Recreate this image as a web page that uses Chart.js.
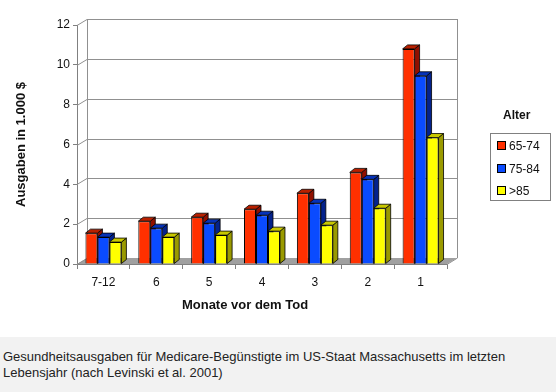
<!DOCTYPE html>
<html>
<head>
<meta charset="utf-8">
<script src="https://cdn.jsdelivr.net/npm/chart.js@4.4.1/dist/chart.umd.min.js"></script>
<style>
  body { margin: 0; background: #fff; font-family: Arial, "Liberation Sans", sans-serif; }
  #wrap { position: relative; width: 556px; height: 337px; }
  #legendTitle { position: absolute; left: 503px; top: 108px; font-weight: bold; font-size: 12px; color: #111; }
  #legend { position: absolute; left: 490px; top: 133px; width: 61px; height: 68px; border: 1px solid #808080; box-sizing: border-box; }
  .item { position: absolute; left: 6px; font-size: 12px; color: #111; line-height: 14px; white-space: nowrap; }
  .item span { display: inline-block; width: 7px; height: 7px; border: 1px solid #000; margin-right: 3px; vertical-align: 0px; }
  #caption { width: 556px; height: 55px; background: #f2f2f2; box-sizing: border-box; padding: 12px 0 0 3px;
    font-size: 13px; line-height: 16px; color: #222; white-space: nowrap; }
</style>
</head>
<body>
<div id="wrap">
  <canvas id="chart"></canvas>
  <div id="legendTitle">Alter</div>
  <div id="legend"></div>
</div>
<div id="caption">Gesundheitsausgaben für Medicare-Begünstigte im US-Staat Massachusetts im letzten<br>Lebensjahr (nach Levinski et al. 2001)</div>
<script>
const months = ['7-12', '6', '5', '4', '3', '2', '1'];
const age65to74 = [1.55, 2.15, 2.35, 2.75, 3.55, 4.6, 10.8];
const age75to84 = [1.35, 1.8, 2.05, 2.45, 3.05, 4.25, 9.45];
const age85plus = [1.1, 1.35, 1.45, 1.65, 1.95, 2.8, 6.35];
const ageGroups = ['65-74', '75-84', '>85'];
const yTicks = [0, 2, 4, 6, 8, 10, 12];

const fronts = ['#ff3000', '#0a4bff', '#ffff00'];
const tops = ['#b82000', '#0632b8', '#c8c800'];
const sides = ['#901000', '#04228c', '#9a9a00'];

// legend
const legend = document.getElementById('legend');
ageGroups.forEach((g, i) => {
  const d = document.createElement('div');
  d.className = 'item';
  d.style.top = (5 + i * 22.5) + 'px';
  d.innerHTML = '<span style="background:' + fronts[i] + '"></span>' + g.replace('>', '&gt;');
  legend.appendChild(d);
});

const box3d = {
  id: 'box3d',
  beforeDatasetsDraw(chart) {
    const { ctx, chartArea: a, scales: { y } } = chart;
    const dx = 10, dy = 6;
    ctx.save();
    ctx.lineWidth = 1;
    // floor
    ctx.fillStyle = '#a0a0a0';
    ctx.beginPath();
    ctx.moveTo(a.left, a.bottom);
    ctx.lineTo(a.right, a.bottom);
    ctx.lineTo(a.right + dx, a.bottom - dy);
    ctx.lineTo(a.left + dx, a.bottom - dy);
    ctx.closePath();
    ctx.fill();
    // back wall grid
    yTicks.forEach(v => {
      const py = Math.round(y.getPixelForValue(v)) + 0.5;
      ctx.strokeStyle = '#909090';
      ctx.beginPath();
      ctx.moveTo(a.left, py);
      ctx.lineTo(a.left + dx, py - dy);
      if (v > 0) ctx.lineTo(a.right + dx, py - dy);
      ctx.stroke();
    });
    ctx.strokeStyle = '#909090';
    ctx.beginPath();
    ctx.moveTo(a.left + dx + 0.5, a.top - dy);
    ctx.lineTo(a.left + dx + 0.5, a.bottom - dy);
    ctx.moveTo(a.right + dx + 0.5, a.top - dy);
    ctx.lineTo(a.right + dx + 0.5, a.bottom - dy);
    ctx.lineTo(a.right, a.bottom + 0.5);
    ctx.stroke();

    // bar tops and sides, left to right
    const bd = 5, bh = 4;
    const bars = [];
    chart.data.datasets.forEach((ds, i) => {
      chart.getDatasetMeta(i).data.forEach(el => bars.push({ el, i }));
    });
    bars.sort((p, q) => p.el.x - q.el.x);
    ctx.strokeStyle = '#000';
    ctx.lineWidth = 0.8;
    bars.forEach(({ el, i }) => {
      const p = el.getProps(['x', 'y', 'base', 'width'], true);
      const l = p.x - p.width / 2, r = p.x + p.width / 2;
      ctx.fillStyle = sides[i];
      ctx.beginPath();
      ctx.moveTo(r, p.y);
      ctx.lineTo(r + bd, p.y - bh);
      ctx.lineTo(r + bd, p.base - bh);
      ctx.lineTo(r, p.base);
      ctx.closePath();
      ctx.fill();
      ctx.stroke();
      ctx.fillStyle = tops[i];
      ctx.beginPath();
      ctx.moveTo(l, p.y);
      ctx.lineTo(l + bd, p.y - bh);
      ctx.lineTo(r + bd, p.y - bh);
      ctx.lineTo(r, p.y);
      ctx.closePath();
      ctx.fill();
      ctx.stroke();
    });
    ctx.restore();
  },
  afterDraw(chart) {
    const { ctx } = chart;
    ctx.save();
    ctx.font = 'bold 13px Arial, "Liberation Sans"';
    ctx.fillStyle = '#111';
    ctx.textAlign = 'center';
    ctx.textBaseline = 'middle';
    ctx.fillText('Monate vor dem Tod', 245, 305);
    ctx.restore();
  }
};

Chart.defaults.font.family = 'Arial, "Liberation Sans", sans-serif';
Chart.defaults.font.size = 12;
Chart.defaults.color = '#111';

new Chart(document.getElementById('chart'), {
  type: 'bar',
  data: {
    labels: months,
    datasets: [
      { label: ageGroups[0], data: age65to74 },
      { label: ageGroups[1], data: age75to84 },
      { label: ageGroups[2], data: age85plus }
    ].map((d, i) => Object.assign(d, {
      backgroundColor: fronts[i],
      borderColor: '#000',
      borderWidth: 1,
      barPercentage: 1,
      categoryPercentage: 0.68
    }))
  },
  options: {
    responsive: true,
    maintainAspectRatio: false,
    animation: false,
    layout: { padding: { left: 0, top: 25, right: 109, bottom: 0 } },
    plugins: { legend: { display: false }, tooltip: { enabled: false } },
    scales: {
      x: {
        grid: { drawOnChartArea: false, drawTicks: true, tickLength: 5, color: '#808080', offset: true },
        border: { color: '#808080' },
        ticks: { padding: 6, color: '#111' },
        afterFit(s) { s.height = 73; }
      },
      y: {
        min: 0,
        max: 12,
        afterBuildTicks(s) { s.ticks = yTicks.map(v => ({ value: v })); },
        grid: { drawOnChartArea: false, drawTicks: true, tickLength: 4, color: '#808080' },
        border: { color: '#808080' },
        ticks: { padding: 3, color: '#111' },
        title: {
          display: true,
          text: 'Ausgaben in 1.000 $',
          font: { weight: 'bold', size: 13 },
          color: '#111',
          padding: { top: 14, bottom: 0 }
        },
        afterFit(s) { s.width = 77; }
      }
    }
  },
  plugins: [box3d]
});
</script>
</body>
</html>
